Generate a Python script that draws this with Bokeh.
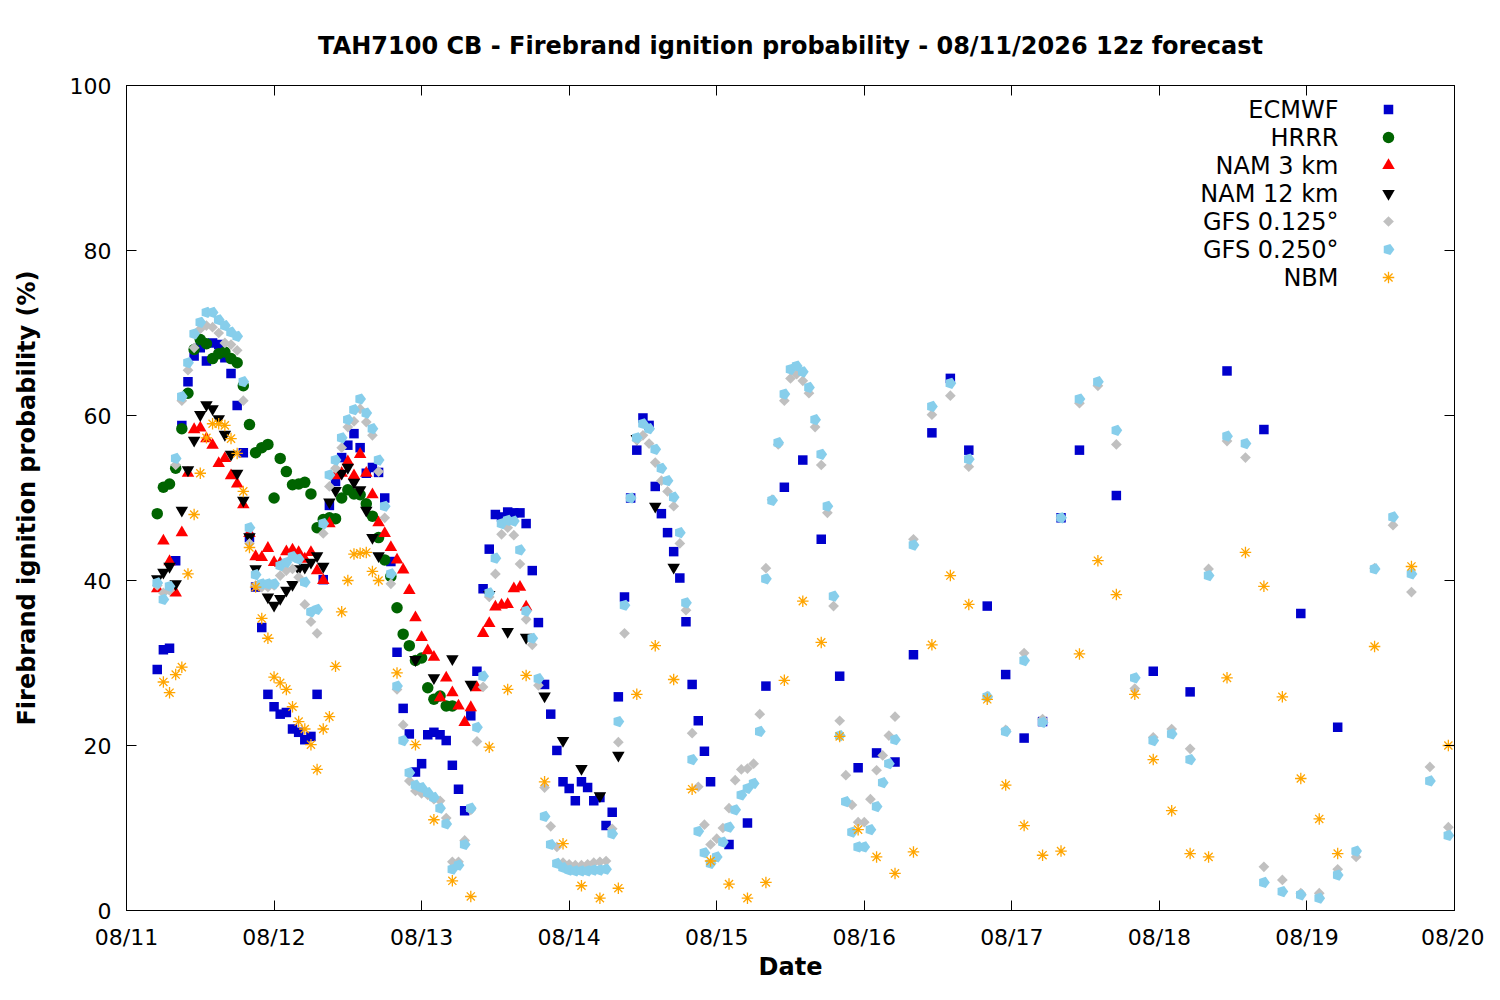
import math
from bokeh.plotting import figure
from bokeh.models import Range1d, FixedTicker, LinearAxis
from bokeh.core.properties import value
from bokeh.embed import file_html
from bokeh.resources import INLINE

FONT = "DejaVu Sans"

# ---------------- data (hours after 08/11 00) ----------------
day_ticks = [0, 24, 48, 72, 96, 120, 144, 168, 192, 216]
day_labels = ["08/11", "08/12", "08/13", "08/14", "08/15", "08/16", "08/17", "08/18", "08/19", "08/20"]
y_ticks = [0, 20, 40, 60, 80, 100]

# time segments: (first hour, last hour, step)
ecmwf_times = [(5, 95, 1), (98, 155, 3), (161, 197, 6)]
ecmwf_vals = [
    29.2, 31.6, 31.8, 42.4, 58.8, 64.1, 67.2, 68.2, 66.6, 68.8,
    68.6, 67.0, 65.1, 61.2, 55.5, 45.2, 39.2, 34.3, 26.2, 24.7,
    23.8, 24.0, 22.0, 21.6, 20.7, 21.1, 26.2, 40.1, 49.1, 52.0,
    54.9, 56.4, 57.8, 56.1, 53.0, 53.7, 53.1, 50.0, 42.3, 31.3,
    24.5, 21.4, 16.8, 17.8, 21.3, 21.6, 21.3, 20.6, 17.6, 14.7,
    12.1, 23.6, 29.0, 39.0, 43.8, 48.0, 47.7, 48.3, 48.2, 48.2,
    46.9, 41.2, 34.9, 27.4, 23.8, 19.4, 15.6, 14.8, 13.3, 15.6,
    14.9, 13.3, 13.7, 10.3, 11.9, 25.9, 38.0, 50.0, 55.8, 59.7,
    58.8, 51.4, 48.1, 45.8, 43.5, 40.3, 35.0, 27.4, 23.0, 19.3,
    15.6,
    8.0, 10.6, 27.2, 51.3, 54.6, 45.0, 28.4, 17.3, 19.1, 18.0,
    31.0, 57.9, 64.5, 55.8, 36.9, 28.6, 20.9, 22.9, 47.6, 55.8,
    50.3, 29.0, 26.5, 65.4, 58.3, 36.0, 22.2,
]

hrrr_times = [(5, 53, 1)]
hrrr_vals = [
    48.1, 51.3, 51.7, 53.6, 58.4, 62.7, 68.0, 69.2, 68.7, 66.9,
    67.5, 67.7, 66.9, 66.4, 63.6, 58.9, 55.5, 56.1, 56.5, 50.0,
    54.8, 53.2, 51.6, 51.7, 51.9, 50.5, 46.4, 47.4, 47.6, 47.5,
    50.0, 51.0, 50.5, 50.4, 49.3, 47.8, 45.2, 42.5, 40.5, 36.7,
    33.5, 32.1, 30.3, 30.6, 27.0, 25.6, 26.0, 24.8, 24.8,
]

nam3_times = [(5, 65, 1)]
nam3_vals = [
    39.0, 44.8, 42.3, 38.5, 45.8, 53.0, 58.3, 58.5, 57.2, 56.4,
    54.2, 54.8, 52.7, 51.7, 49.2, 45.7, 42.9, 42.8, 43.9, 42.2,
    42.1, 43.5, 43.7, 43.4, 42.6, 43.4, 41.2, 40.0, 46.9, 52.7,
    53.0, 54.4, 52.7, 55.3, 53.0, 50.4, 47.0, 45.7, 44.0, 42.5,
    41.3, 38.8, 35.5, 33.1, 31.5, 30.7, 25.8, 28.2, 26.4, 24.8,
    22.8, 24.6, 27.0, 33.6, 34.8, 36.8, 37.0, 37.1, 39.0, 39.2, 36.8,
]

nam12_times = [(5, 41, 1), (47, 89, 3)]
nam12_vals = [
    40.2, 41.0, 41.7, 39.6, 48.5, 53.4, 57.0, 60.1, 61.3, 60.8,
    59.6, 57.7, 55.3, 53.0, 49.7, 45.3, 41.4, 39.5, 38.0, 37.0,
    37.8, 38.8, 39.5, 41.4, 41.6, 42.2, 43.0, 41.7, 49.5, 50.9,
    53.0, 53.7, 51.9, 51.0, 48.5, 45.2, 43.0,
    30.4, 28.2, 30.5, 27.4, 38.3, 33.8, 33.1, 26.0, 20.6, 17.2,
    13.9, 18.8, 57.2, 49.0, 41.6,
]

gfs125_times = [(5, 125, 1), (128, 215, 3)]
gfs125_vals = [
    39.4, 38.5, 38.8, 54.0, 61.8, 65.5, 68.2, 70.5, 70.9, 70.7,
    70.0, 68.8, 68.6, 67.9, 61.8, 44.5, 39.4, 39.2, 39.2, 39.4,
    40.6, 41.2, 41.4, 40.4, 37.1, 35.0, 33.6, 45.7, 51.4, 53.6,
    56.1, 58.6, 59.3, 60.8, 59.2, 57.6, 53.2, 47.6, 39.6, 26.8,
    22.5, 15.7, 14.5, 14.2, 14.0, 13.5, 13.3, 11.2, 5.9, 5.9,
    8.5, 12.2, 20.5, 27.1, 38.0, 40.8, 45.6, 46.4, 45.5, 42.0,
    35.3, 32.2, 27.3, 14.9, 10.2, 7.7, 5.8, 5.6, 5.5, 5.5,
    5.6, 5.8, 5.9, 6.0, 9.9, 20.4, 33.6, 50.0, 57.0, 57.6,
    56.6, 54.3, 52.1, 50.8, 49.0, 44.5, 36.4, 21.5, 15.0, 10.4,
    8.0, 8.7, 10.0, 12.4, 15.8, 17.1, 17.2, 17.8, 23.8, 41.5,
    49.8, 56.5, 61.8, 64.5, 65.0, 64.2, 62.7, 58.6, 54.0, 48.2,
    36.9, 23.0, 16.4, 12.8, 10.7, 10.7, 13.5, 17.0, 18.8, 21.2,
    23.5,
    45.0, 60.1, 62.4, 53.8, 26.0, 21.9, 31.2, 23.2, 47.6, 61.5,
    63.6, 56.5, 26.9, 21.0, 22.0, 19.6, 41.4, 56.9, 54.9, 5.3,
    3.7, 2.1, 2.1, 5.0, 6.5, 41.5, 46.7, 38.6, 17.4, 10.1,
]

gfs250_times = [(5, 125, 1), (128, 215, 3)]
gfs250_vals = [
    39.7, 37.7, 39.3, 54.8, 62.3, 66.4, 69.9, 71.3, 72.5, 72.5,
    71.6, 70.9, 70.1, 69.6, 64.1, 46.4, 40.7, 39.6, 39.6, 39.6,
    41.8, 42.2, 42.9, 42.6, 39.8, 36.2, 36.5, 46.9, 52.8, 54.6,
    57.3, 59.5, 60.7, 62.0, 60.3, 58.4, 54.6, 49.0, 40.8, 27.2,
    20.6, 16.7, 15.2, 14.9, 14.3, 13.7, 12.4, 10.5, 5.0, 5.5,
    8.0, 12.4, 22.2, 28.4, 38.5, 42.7, 46.9, 47.3, 47.2, 43.7,
    36.3, 33.0, 28.1, 11.4, 8.0, 5.7, 5.2, 4.9, 4.8, 4.8,
    4.8, 4.9, 4.9, 5.0, 9.3, 22.9, 37.0, 50.0, 57.3, 59.0,
    58.4, 55.9, 53.6, 52.1, 50.1, 45.8, 37.3, 18.3, 9.6, 7.0,
    5.7, 6.5, 8.3, 10.1, 12.2, 14.0, 14.8, 15.4, 21.7, 40.2,
    49.7, 56.7, 62.6, 65.6, 66.0, 65.3, 63.4, 59.5, 55.3, 49.0,
    38.1, 21.2, 13.2, 9.5, 7.7, 7.7, 9.8, 12.6, 15.5, 17.8,
    20.7,
    44.3, 61.1, 63.9, 54.7, 25.9, 21.7, 30.3, 22.8, 47.6, 62.0,
    64.1, 58.2, 28.2, 20.6, 21.4, 18.3, 40.6, 57.5, 56.6, 3.4,
    2.3, 1.9, 1.5, 4.3, 7.2, 41.4, 47.7, 40.8, 15.7, 9.1,
]

nbm_times = [(6, 41, 1), (44, 197, 3), (203, 215, 6)]
nbm_vals = [
    27.7, 26.4, 28.6, 29.5, 40.8, 48.0, 53.0, 57.3, 59.0, 59.0,
    58.8, 57.2, 55.4, 50.8, 44.0, 39.2, 35.4, 33.0, 28.3, 27.6,
    26.8, 24.7, 22.9, 22.0, 20.1, 17.1, 22.0, 23.5, 29.6, 36.2,
    40.0, 43.2, 43.3, 43.4, 41.1, 40.0,
    28.8, 20.1, 11.0, 3.6, 1.7, 19.8, 26.8, 28.5, 15.6, 8.1,
    3.0, 1.5, 2.7, 26.2, 32.1, 28.0, 14.7, 6.0, 3.2, 1.5,
    3.4, 27.9, 37.5, 32.5, 21.1, 9.8, 6.5, 4.5, 7.1, 32.2,
    40.6, 37.1, 25.6, 15.2, 10.3, 6.7, 7.2, 31.1, 42.4, 38.3,
    26.2, 18.3, 12.1, 6.9, 6.5, 28.2, 43.4, 39.3, 25.9, 16.0,
    11.1, 6.9,
    32.0, 41.7, 20.0,
]

series_names = ["ECMWF", "HRRR", "NAM 3 km", "NAM 12 km", "GFS 0.125°", "GFS 0.250°", "NBM"]


def expand(segments):
    out = []
    for a, b, s in segments:
        out += list(range(a, b + 1, s))
    return out


series_data = [
    (expand(ecmwf_times), ecmwf_vals),
    (expand(hrrr_times), hrrr_vals),
    (expand(nam3_times), nam3_vals),
    (expand(nam12_times), nam12_vals),
    (expand(gfs125_times), gfs125_vals),
    (expand(gfs250_times), gfs250_vals),
    (expand(nbm_times), nbm_vals),
]

styles = [
    dict(kind="scatter", marker="square", size=9.5, color="#0000cc"),
    dict(kind="scatter", marker="circle", size=11.5, color="#006400"),
    dict(kind="scatter", marker="triangle", size=12.5, color="#ff0000"),
    dict(kind="scatter", marker="inverted_triangle", size=12.5, color="#000000"),
    dict(kind="scatter", marker="square", size=7.6, color="#c0c0c0", angle=math.pi / 4),
    dict(kind="ngon", radius=5.9, color="#87ceeb"),
    dict(kind="asterisk", marker="asterisk", size=11.5, color="#ffa500"),
]

# ---------------- figure ----------------
W, H = 1484, 984
p = figure(width=W, height=H, output_backend="svg", toolbar_location=None,
           x_range=Range1d(0, 216), y_range=Range1d(0, 100),
           min_border_left=126, min_border_right=30, min_border_top=85, min_border_bottom=74,
           background_fill_color="white", border_fill_color="white")
p.grid.visible = False
p.outline_line_color = "black"
p.outline_line_width = 1

p.title.text = "TAH7100 CB - Firebrand ignition probability - 08/11/2026 12z forecast"
p.title.align = "center"
p.title.text_font = FONT
p.title.text_font_size = "24px"
p.title.text_font_style = "bold"
p.title.text_color = "black"
p.title.standoff = 52

for ax in (p.xaxis[0], p.yaxis[0]):
    ax.major_label_text_font = FONT
    ax.major_label_text_font_size = "22px"
    ax.major_label_text_color = "black"
    ax.axis_label_text_font = FONT
    ax.axis_label_text_font_size = "24px"
    ax.axis_label_text_font_style = "bold"
    ax.axis_label_text_color = "black"
    ax.major_tick_in = 10
    ax.major_tick_out = 0
    ax.minor_tick_line_color = None
    ax.axis_line_color = "black"
    ax.major_tick_line_color = "black"

p.xaxis.ticker = FixedTicker(ticks=day_ticks)
p.xaxis.major_label_overrides = {t: lab for t, lab in zip(day_ticks, day_labels)}
p.xaxis.axis_label = "Date"
p.xaxis.major_label_standoff = 14
p.xaxis.axis_label_standoff = 0

p.yaxis.ticker = FixedTicker(ticks=y_ticks)
p.yaxis.axis_label = "Firebrand ignition probability (%)"
p.yaxis.major_label_standoff = 15
p.yaxis.axis_label_standoff = 26

# mirrored ticks (top and right)
top_ax = LinearAxis(ticker=FixedTicker(ticks=day_ticks), major_tick_in=10, major_tick_out=0,
                    minor_tick_line_color=None, major_label_text_font_size="0px",
                    major_label_overrides={t: "" for t in day_ticks}, major_label_standoff=0,
                    axis_line_color="black")
p.add_layout(top_ax, "above")
right_ax = LinearAxis(ticker=FixedTicker(ticks=y_ticks), major_tick_in=10, major_tick_out=0,
                      minor_tick_line_color=None, major_label_text_font_size="0px",
                      major_label_overrides={t: "" for t in y_ticks}, major_label_standoff=0,
                      axis_line_color="black")
p.add_layout(right_ax, "right")

# legend placement (screen-derived, in data units)
px_per_hour = (1454 - 126) / 216.0
px_per_unit = (910 - 85) / 100.0
leg_text_x = (1338 - 126) / px_per_hour
leg_mark_x = (1388 - 126) / px_per_hour
leg_y0 = (910 - 109) / px_per_unit
leg_dy = 28 / px_per_unit


def draw(st, xs, ys):
    if st["kind"] == "ngon":
        try:
            return p.ngon(x=xs, y=ys, radius=st["radius"], radius_units="screen", n=5,
                          angle=-math.pi / 2, fill_color=st["color"], line_color=None)
        except Exception:
            return p.scatter(x=xs, y=ys, marker="hex", size=11, fill_color=st["color"], line_color=None)
    if st["kind"] == "asterisk":
        return p.scatter(x=xs, y=ys, marker="asterisk", size=st["size"], line_color=st["color"], line_width=1.3)
    return p.scatter(x=xs, y=ys, marker=st["marker"], size=st["size"], angle=st.get("angle", 0.0),
                     fill_color=st["color"], line_color=None)


for i, ((hrs, vals), st) in enumerate(zip(series_data, styles)):
    n = min(len(hrs), len(vals))
    draw(st, hrs[:n], vals[:n])
    ly = leg_y0 - i * leg_dy
    draw(st, [leg_mark_x], [ly])

leg_ys = [leg_y0 - i * leg_dy for i in range(len(series_names))]
p.text(x=[leg_text_x] * len(series_names), y=leg_ys, text=series_names,
       text_align="right", text_baseline="middle", text_font=value(FONT),
       text_font_size="24px", text_color="black")

open("out.html", "w").write(file_html(p, INLINE))
